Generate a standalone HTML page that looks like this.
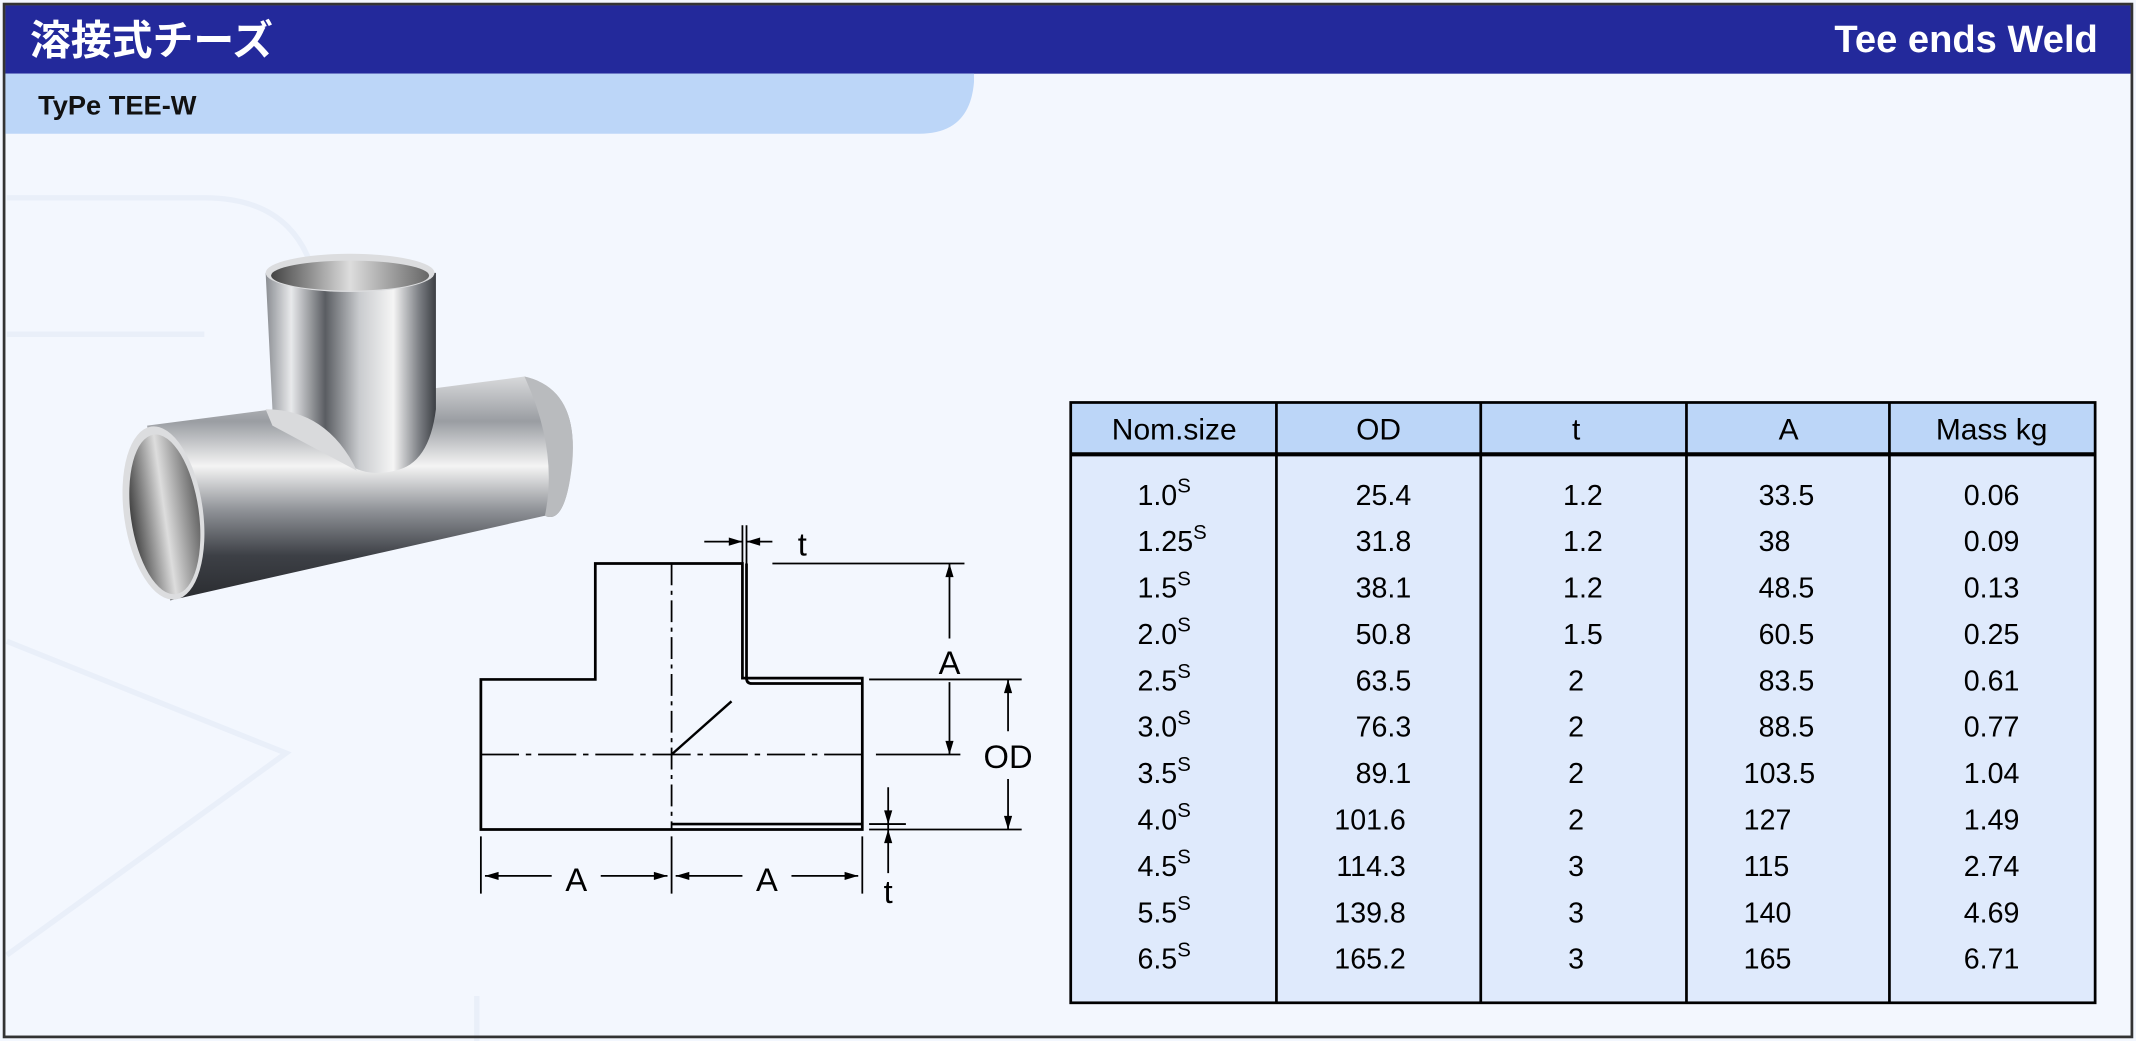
<!DOCTYPE html>
<html><head><meta charset="utf-8"><style>
html,body{margin:0;padding:0;background:#f3f7fe;overflow:hidden}
svg{display:block}
text{font-family:"Liberation Sans","Noto Sans CJK JP",sans-serif}
</style></head><body>
<svg width="2136" height="1041" viewBox="0 0 1568 763" preserveAspectRatio="none" xmlns="http://www.w3.org/2000/svg">
<defs>
<linearGradient id="gv" x1="0" x2="1" y1="0" y2="0">
<stop offset="0" stop-color="#8a8d92"/><stop offset="0.15" stop-color="#e8e9eb"/><stop offset="0.35" stop-color="#5a5d62"/><stop offset="0.55" stop-color="#c9cbce"/><stop offset="0.75" stop-color="#f5f5f5"/><stop offset="0.9" stop-color="#7d8085"/><stop offset="1" stop-color="#3c3f44"/>
</linearGradient>
<linearGradient id="gh" x1="0" x2="0" y1="0" y2="1">
<stop offset="0" stop-color="#d8d9db"/><stop offset="0.2" stop-color="#9a9da2"/><stop offset="0.4" stop-color="#f4f4f4"/><stop offset="0.6" stop-color="#8e9196"/><stop offset="0.8" stop-color="#3d4046"/><stop offset="1" stop-color="#2a2c30"/>
</linearGradient>
<linearGradient id="gin" x1="0" x2="1" y1="0" y2="0">
<stop offset="0" stop-color="#444"/><stop offset="0.5" stop-color="#ddd"/><stop offset="1" stop-color="#666"/>
</linearGradient>
</defs>
<rect x="0" y="0" width="1568" height="763" fill="#f3f7fe"/>
<g fill="none" stroke="#e9eff9" stroke-width="4">
<path d="M5 145 H150 Q230 145 235 230 V400"/>
<path d="M5 245 H150"/>
<path d="M5 470 L210 552 L5 700"/>
<path d="M350 730 V763"/>
</g>
<rect x="3" y="3" width="1562" height="757" fill="none" stroke="#333" stroke-width="2"/>
<rect x="4" y="4" width="1560" height="50" fill="#23299b"/>
<text x="22" y="40" font-size="30" font-weight="bold" fill="#fff">溶接式チーズ</text>
<text x="1540" y="38" font-size="28" font-weight="bold" fill="#fff" text-anchor="end">Tee ends Weld</text>
<path d="M4 54 H715 V60 Q712 98 675 98 H4 Z" fill="#bcd6f8"/>
<text x="28" y="84" font-size="20" font-weight="bold" fill="#111">TyPe TEE-W</text>

<g>
<path d="M108 312 L385 276 Q425 285 420 340 Q415 385 400 378 L125 440 Z" fill="url(#gh)"/>
<path d="M385 276 Q425 285 420 340 Q415 385 400 378 Q410 330 385 276 Z" fill="#b9bbbe"/>
<path d="M195 200 L320 200 L320 300 Q315 340 290 345 Q270 350 255 340 L200 300 Z" fill="url(#gv)"/>
<path d="M195 300 Q240 300 262 345 L200 312 Z" fill="#d9dadc"/>
<ellipse cx="257" cy="200" rx="62" ry="14" fill="#dcdddf"/>
<ellipse cx="257" cy="202" rx="58" ry="11" fill="url(#gin)"/>
<ellipse cx="120" cy="376" rx="29" ry="64" transform="rotate(-8 120 376)" fill="#dcdddf"/>
<ellipse cx="121" cy="377" rx="25" ry="59" transform="rotate(-8 121 377)" fill="url(#gin)"/>
</g>

<g fill="none" stroke="#000" stroke-width="2">
<path d="M353 608 V498 H437 V413 H545 V497 H633 V608 Z"/>
<path d="M548 413 V497 Q548 501 552 501 H633"/>
<path d="M493 604 H633"/>
<path d="M493 553 L537 514" stroke-width="1.8"/>
</g>
<g fill="none" stroke="#000" stroke-width="1.3">
<path d="M493 413 V608" stroke-dasharray="16 4 3 4"/>
<path d="M353 553 H633" stroke-dasharray="28 5 4 5"/>
<path d="M643 553 H705"/>
<path d="M545 385 V413 M548 385 V413"/>
<path d="M517 397 H545 M548 397 H567"/>
<path d="M567 413 H708"/>
<path d="M697 413 V468 M697 500 V553"/>
<path d="M638 498 H750 M638 608 H750"/>
<path d="M740 498 V536 M740 571 V608"/>
<path d="M638 604 H665"/>
<path d="M652 577 V640"/>
<path d="M353 613 V655 M493 613 V655 M633 613 V655"/>
<path d="M356 642 H405 M441 642 H490 M496 642 H545 M581 642 H630"/>
</g>
<g fill="#000">
<path d="M545 397 l-10 -3 v6 z M548 397 l10 -3 v6 z"/>
<path d="M697 413 l-3 10 h6 z M697 553 l-3 -10 h6 z"/>
<path d="M740 498 l-3 10 h6 z M740 608 l-3 -10 h6 z"/>
<path d="M652 604 l-3 -10 h6 z M652 608 l-3 10 h6 z"/>
<path d="M356 642 l10 -3 v6 z M490 642 l-10 -3 v6 z M496 642 l10 -3 v6 z M630 642 l-10 -3 v6 z"/>
</g>
<g font-size="24" fill="#000" text-anchor="middle">
<text x="589" y="407">t</text>
<text x="697" y="494">A</text>
<text x="740" y="563">OD</text>
<text x="652" y="662">t</text>
<text x="423" y="653">A</text>
<text x="563" y="653">A</text>
</g>

<rect x="786" y="295" width="752" height="440" fill="#dfeafc"/>
<rect x="786" y="295" width="752" height="38" fill="#bcd6f8"/>
<g stroke="#000" stroke-width="2" fill="none">
<rect x="786" y="295" width="752" height="440"/>
<path d="M786 333 H1538" stroke-width="3"/>
<path d="M937 295 V735 M1087 295 V735 M1238 295 V735 M1387 295 V735"/>
</g>
<g font-size="22" fill="#000" text-anchor="middle">
<text x="862" y="322">Nom.size</text>
<text x="1012" y="322">OD</text>
<text x="1157" y="322">t</text>
<text x="1313" y="322">A</text>
<text x="1462" y="322">Mass kg</text>
</g>
<g font-size="21" fill="#000">
<g>
<text x="835" y="370">1.0<tspan font-size="15" dy="-9">S</tspan></text>
<text x="835" y="404">1.25<tspan font-size="15" dy="-9">S</tspan></text>
<text x="835" y="438">1.5<tspan font-size="15" dy="-9">S</tspan></text>
<text x="835" y="472">2.0<tspan font-size="15" dy="-9">S</tspan></text>
<text x="835" y="506">2.5<tspan font-size="15" dy="-9">S</tspan></text>
<text x="835" y="540">3.0<tspan font-size="15" dy="-9">S</tspan></text>
<text x="835" y="574">3.5<tspan font-size="15" dy="-9">S</tspan></text>
<text x="835" y="608">4.0<tspan font-size="15" dy="-9">S</tspan></text>
<text x="835" y="642">4.5<tspan font-size="15" dy="-9">S</tspan></text>
<text x="835" y="676">5.5<tspan font-size="15" dy="-9">S</tspan></text>
<text x="835" y="710">6.5<tspan font-size="15" dy="-9">S</tspan></text>
</g>
<g text-anchor="end">
<text x="1036" y="370">25.4</text><text x="1036" y="404">31.8</text><text x="1036" y="438">38.1</text><text x="1036" y="472">50.8</text><text x="1036" y="506">63.5</text><text x="1036" y="540">76.3</text><text x="1036" y="574">89.1</text><text x="1032" y="608">101.6</text><text x="1032" y="642">114.3</text><text x="1032" y="676">139.8</text><text x="1032" y="710">165.2</text>
</g>
<g text-anchor="middle">
<text x="1162" y="370">1.2</text><text x="1162" y="404">1.2</text><text x="1162" y="438">1.2</text><text x="1162" y="472">1.5</text><text x="1157" y="506">2</text><text x="1157" y="540">2</text><text x="1157" y="574">2</text><text x="1157" y="608">2</text><text x="1157" y="642">3</text><text x="1157" y="676">3</text><text x="1157" y="710">3</text>
</g>
<g>
<text x="1291" y="370">33.5</text><text x="1291" y="404">38</text><text x="1291" y="438">48.5</text><text x="1291" y="472">60.5</text><text x="1291" y="506">83.5</text><text x="1291" y="540">88.5</text><text x="1280" y="574">103.5</text><text x="1280" y="608">127</text><text x="1280" y="642">115</text><text x="1280" y="676">140</text><text x="1280" y="710">165</text>
</g>
<g text-anchor="middle">
<text x="1462" y="370">0.06</text><text x="1462" y="404">0.09</text><text x="1462" y="438">0.13</text><text x="1462" y="472">0.25</text><text x="1462" y="506">0.61</text><text x="1462" y="540">0.77</text><text x="1462" y="574">1.04</text><text x="1462" y="608">1.49</text><text x="1462" y="642">2.74</text><text x="1462" y="676">4.69</text><text x="1462" y="710">6.71</text>
</g>
</g>
</svg>
</body></html>
